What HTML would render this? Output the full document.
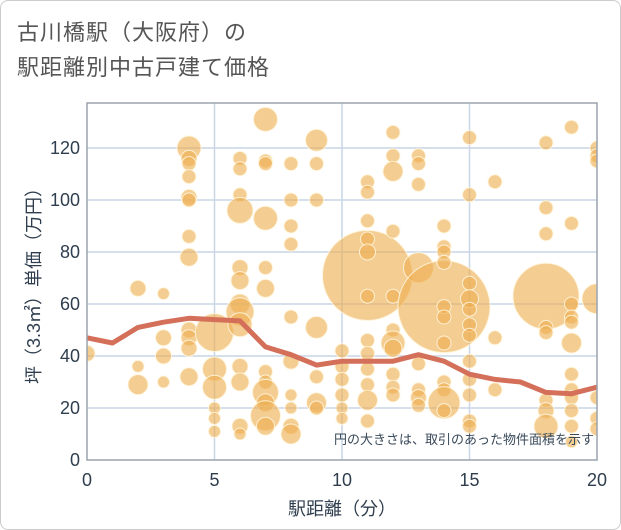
<!DOCTYPE html>
<html><head><meta charset="utf-8"><style>
body{margin:0;background:#fff;}
.wrap{position:relative;width:619px;height:528px;border:1px solid #ccc;border-radius:8px;background:#fff;overflow:hidden;font-family:"Liberation Sans","Noto Sans CJK JP",sans-serif;}
.title{position:absolute;left:16px;top:14px;font-size:22px;line-height:35px;color:#555;letter-spacing:1px;}
</style></head><body>
<div class="wrap">
<div class="title">古川橋駅（大阪府）の<br>駅距離別中古戸建て価格</div>
<svg id="chart" width="621" height="530" style="position:absolute;left:-1px;top:-1px"></svg>
</div>
<script>
const xTicks=[0,5,10,15,20];
const yTicks=[0,20,40,60,80,100,120];
const avgX=[0,1,2,3,4,5,6,7,8,9,10,11,12,13,14,15,16,17,18,19,20];
const avgY=[47,45,51,53,54.5,54,53.5,43.5,40.5,36.5,38,38,38,40.5,38,33,31,30,26,25.5,28];
const bx=[0,2,2,2,3,3,3,3,4,4,4,4,4,4,4,4,4,4,4,4,5,5,5,5,5,5,6,6,6,6,6,6,6,6,6,6,6,6,6,7,7,7,7,7,7,7,7,7,7,7,7,8,8,8,8,8,8,8,8,8,8,9,9,9,9,9,9,9,10,10,10,10,10,10,11,11,11,11,11,11,11,11,11,11,11,11,11,12,12,12,12,12,12,12,12,12,12,12,13,13,13,13,13,13,13,13,14,14,14,14,14,14,14,14,14,14,14,14,15,15,15,15,15,15,15,15,15,15,15,15,16,16,16,18,18,18,18,18,18,18,18,18,19,19,19,19,19,19,19,19,19,19,19,19,20,20,20,20,20,20,20];
const by=[41,66,29,36,64,40,30,47,120,116,114,109,101,100,86,78,50,47,43,32,49,35,28,20,16,11,116,112,102,96,74,69,60,57,52,36,30,13,10,131,115,114,93,74,66,34,30,26,22,17,13,114,100,90,83,55,38,25,20,13,10,123,114,100,51,32,22,20,42,36,31,25,20,16,71,107,103,92,85,80,63,46,41,35,29,23,15,126,117,111,88,63,50,45,43,33,28,25,117,114,106,74,37,27,24,21,59,90,82,80,76,59,55,45,30,27,22,19,124,102,68,62,58,52,48,38,31,25,15,13,107,47,27,63,122,97,87,51,49,23,19,13,128,91,60,55,53,45,33,27,24,19,13,7,120,117,115,62,24,16,12];
const bs=[8,8,10,6,6,8,6,8,12,8,7,7,8,7,7,9,8,8,8,9,19,12,12,6,6,6,7,7,7,13,8,9,10,14,12,8,9,8,6,12,7,7,12,7,9,7,7,13,9,15,9,7,7,7,7,7,8,6,6,8,10,11,7,7,11,7,10,7,7,7,7,7,6,6,45,7,7,7,7,8,7,7,7,7,7,10,7,7,7,10,7,7,7,12,9,7,7,7,7,7,7,15,7,7,8,7,46,7,7,7,7,7,7,7,7,7,16,7,7,7,7,9,7,7,7,7,7,7,7,7,7,7,7,33,7,7,7,7,7,7,8,12,7,7,7,7,7,10,7,7,7,7,7,6,7,7,7,15,7,7,7];
const L=87,R=597,T=103,B=460;
const sx=v=>L+(v-0)/20*(R-L);
const sy=v=>B-v*2.6;
const NS='http://www.w3.org/2000/svg';
const svg=document.getElementById('chart');
function mk(t,a,p){const e=document.createElementNS(NS,t);for(const k in a)e.setAttribute(k,a[k]);(p||svg).appendChild(e);return e;}
const defs=mk('defs',{});const cp=mk('clipPath',{id:'pc'},defs);mk('rect',{x:L,y:T,width:R-L,height:B-T},cp);
const grid=mk('g',{});


yTicks.forEach(v=>{if(v>0)mk('line',{x1:L,x2:R,y1:sy(v),y2:sy(v),stroke:'#c9d6e6','stroke-width':1.5},grid);
 const t=mk('text',{x:L-7,y:sy(v)+6,'text-anchor':'end','font-size':18,fill:'#2f3e4e'});t.textContent=v;
 
 });
xTicks.forEach(v=>{if(v>0&&v<20)mk('line',{x1:sx(v),x2:sx(v),y1:T,y2:B,stroke:'#c9d6e6','stroke-width':1.5},grid);
 const t=mk('text',{x:sx(v),y:B+26,'text-anchor':'middle','font-size':18,fill:'#2f3e4e'});t.textContent=v;
 
 });
const bg=mk('g',{'clip-path':'url(#pc)'});


for(let i=0;i<bx.length;i++){const c=mk('circle',{cx:sx(bx[i]),cy:sy(by[i]),r:bs[i],fill:'rgba(238,175,80,0.62)',stroke:'rgba(255,245,220,0.9)','stroke-width':1},bg);
 
 }
const pl=mk('polyline',{points:avgX.map((x,i)=>sx(x)+','+sy(avgY[i])).join(' '),fill:'none',stroke:'#d46f5a','stroke-width':5,'stroke-linejoin':'round','clip-path':'url(#pc)'});


const fr=mk('rect',{x:L,y:T,width:R-L,height:B-T,fill:'none',stroke:'#9aa3ad','stroke-width':1.5});


const note=mk('text',{x:R-3,y:444,'text-anchor':'end','font-size':13,fill:'#3a4a5a'});note.textContent='円の大きさは、取引のあった物件面積を示す';


const xt=mk('text',{x:(L+R)/2,y:515,'text-anchor':'middle','font-size':18,fill:'#2f3e4e'});xt.textContent='駅距離（分）';


const yt=mk('text',{x:0,y:0,'text-anchor':'middle','font-size':18,fill:'#2f3e4e',transform:'translate(40,'+((T+B)/2)+') rotate(-90)'});yt.textContent='坪（3.3㎡）単価（万円）';


</script>
</body></html>
